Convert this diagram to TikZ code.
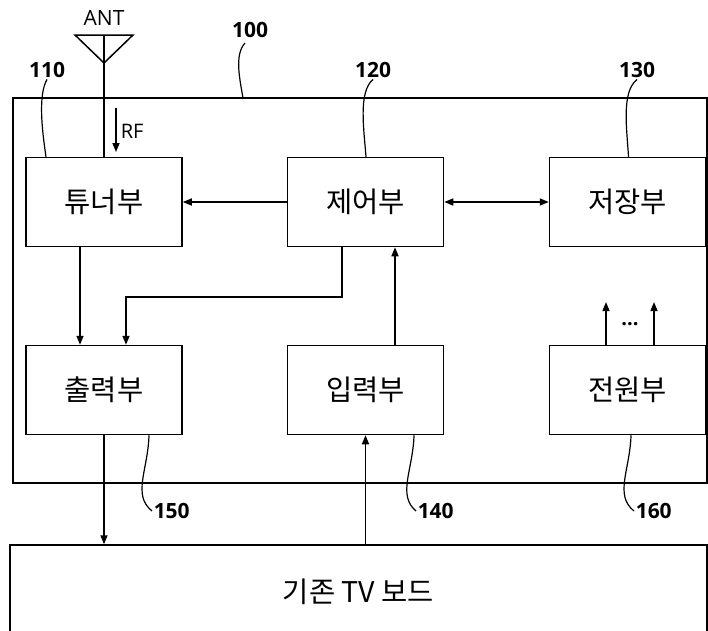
\documentclass[tikz,border=0pt]{standalone}
\usepackage{fontspec}
\setmainfont{Open Sans}
\newfontfamily\kr{Noto Sans CJK KR}
\usetikzlibrary{arrows.meta,calc}

\begin{document}
\begin{tikzpicture}[x=1pt,y=-1pt,line width=1.5pt,
  blk/.style={draw,minimum width=156pt,minimum height=89pt,font=\kr\fontsize{28.5}{32}\selectfont},
  arr/.style={-{Triangle[length=9pt,width=7pt]}},
  darr/.style={{Triangle[length=9pt,width=7pt]}-{Triangle[length=9pt,width=7pt]}},
  num/.style={font=\bfseries\fontsize{21}{24}\selectfont,inner sep=1pt},
  lbl/.style={font=\fontsize{#1}{#1}\selectfont,inner sep=1pt},
  lead/.style={line width=1.2pt}]
  \clip (0,0) rectangle (708,630);
  \draw (13,98) coordinate (sys) rectangle (707,483);

  \node[blk] (tuner) at (104,202) {튜너부};
  \node[blk] (ctrl)  at (365.5,202) {제어부};
  \node[blk] (store) at (627.5,202) {저장부};
  \node[blk] (out)   at (104,390) {출력부};
  \node[blk] (in)    at (365.5,390) {입력부};
  \node[blk] (power) at (627.5,390) {전원부};
  \node[blk,minimum width=697pt,minimum height=94pt,font=\kr\fontsize{28.5}{32}\selectfont] (board) at (358.5,592) {기존 TV 보드};

  % antenna
  \coordinate (antL) at (75,35);
  \coordinate (antR) at (133,35);
  \coordinate (antT) at (104,63);
  \draw (antL) -- (antR) -- (antT) -- cycle;
  \draw (104,35) -- (tuner.north);
  \node[lbl=21] (ant) at (104,18) {ANT};
  \coordinate (rfA) at (116,108);
  \coordinate (rfB) at (116,152);
  \draw[arr] (rfA) -- (rfB);
  \node[lbl=20,anchor=west] (rf) at (119,131) {RF};

  % signals
  \draw[arr] (ctrl.west) -- (tuner.east);
  \draw[darr] (ctrl.east) -- (store.west);
  \draw[arr] ([xshift=-24pt]tuner.south) -- ([xshift=-24pt]out.north);
  \coordinate (jn) at (126,297);
  \draw[arr] ([xshift=-23.5pt]ctrl.south) |- (jn) -- ([xshift=22pt]out.north);
  \draw[arr] ([xshift=29.5pt]in.north) -- ([xshift=29.5pt]ctrl.south);
  \coordinate (p1) at (606,302);
  \coordinate (p2) at (654,302);
  \draw[arr] (power.north -| p1) -- (p1);
  \draw[arr] (power.north -| p2) -- (p2);
  \node[font=\bfseries\fontsize{20}{20}\selectfont] (dots) at (630,324) {...};
  \draw[arr] (out.south) -- (out.south |- board.north);
  \draw[arr] (in.south |- board.north) -- (in.south);

  % reference numerals
  \node[num] (n100) at (250,30) {100};
  \node[num] (n110) at (47,70) {110};
  \node[num] (n120) at (373,70) {120};
  \node[num] (n130) at (637,70) {130};
  \node[num,anchor=west] (n150) at (152,511) {150};
  \node[num,anchor=west] (n140) at (416,511) {140};
  \node[num,anchor=west] (n160) at (634,511) {160};
  \draw[lead] (245,43) .. controls (234,55) and (240,80) .. (243,98);
  \draw[lead] (n110.south) .. controls (38,95) and (42,130) .. ([xshift=-58pt]tuner.north);
  \draw[lead] (n120.south) .. controls (358,92) and (364,130) .. ([xshift=0.5pt]ctrl.north);
  \draw[lead] (n130.south) .. controls (621,92) and (627,130) .. ([xshift=1pt]store.north);
  \draw[lead] ([xshift=45pt]out.south) .. controls (148,470) and (132,495) .. (n150.west);
  \draw[lead] ([xshift=48.5pt]in.south) .. controls (413,470) and (397,495) .. (n140.west);
  \draw[lead] ([xshift=3.5pt]power.south) .. controls (630,470) and (614,495) .. (n160.west);
\end{tikzpicture}
\end{document}
